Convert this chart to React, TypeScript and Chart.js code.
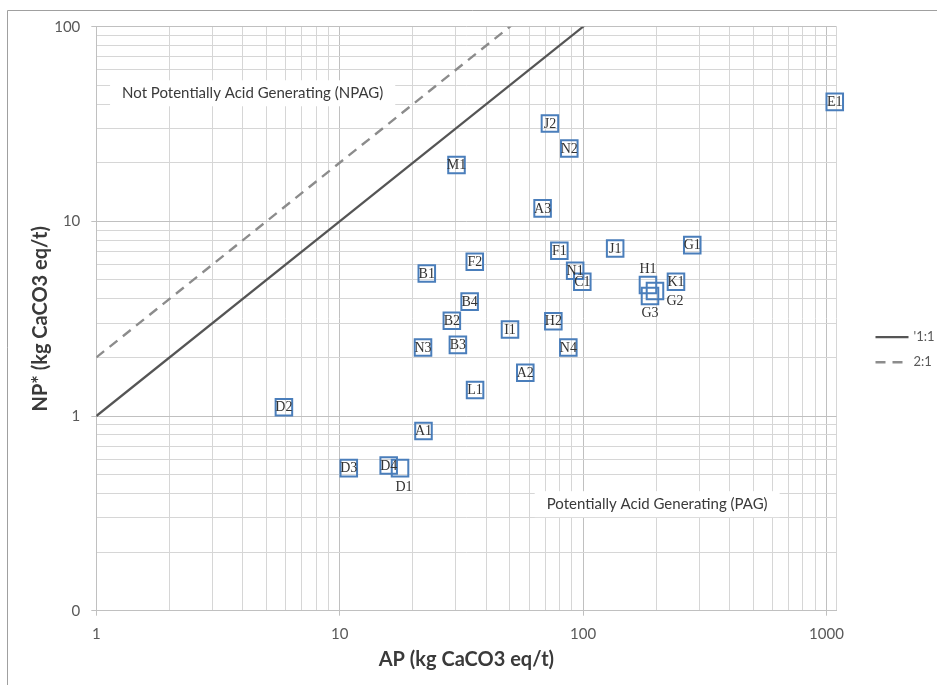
import React, { useEffect, useRef } from 'react';
import { Chart, registerables } from 'chart.js';

Chart.register(...registerables);

// ---- Data ----
const sampleIds = ['E1', 'J2', 'N2', 'M1', 'A3', 'F1', 'J1', 'G1', 'F2', 'B1', 'N1', 'C1', 'H1', 'G2', 'G3', 'K1', 'B4', 'B2', 'H2', 'I1', 'N3', 'B3', 'N4', 'A2', 'L1', 'D2', 'A1', 'D3', 'D4', 'D1'];
const apValues = [1082, 73.1, 87.8, 30.2, 68.2, 79.9, 135.5, 281, 35.9, 22.8, 92.8, 99.3, 184.8, 197.5, 188.4, 240.9, 34.2, 28.9, 75.5, 50.1, 22.0, 30.6, 87, 57.9, 36.0, 5.9, 22.1, 10.9, 15.9, 17.7];
const npValues = [41.1, 31.8, 23.7, 19.5, 11.66, 7.06, 7.26, 7.55, 6.2, 5.4, 5.57, 4.89, 4.71, 4.39, 4.14, 4.89, 3.87, 3.09, 3.07, 2.78, 2.25, 2.32, 2.25, 1.67, 1.36, 1.11, 0.838, 0.54, 0.557, 0.54];

const oneToOneAP = [1, 1000];
const oneToOneNP = [1, 1000];
const twoToOneAP = [1, 500];
const twoToOneNP = [2, 1000];
const lineLabels = ["'1:1", '2:1'];

const xTickValues = [1, 10, 100, 1000];
const xTickLabels = ['1', '10', '100', '1000'];
const yTickValues = [0.1, 1, 10, 100];
const yTickLabels = ['0', '1', '10', '100'];
const xMin = 1;
const xMax = 1100;
const yMin = 0.1;
const yMax = 100;

const regionTexts = ['Not Potentially Acid Generating (NPAG)', 'Potentially Acid Generating (PAG)'];
const regionAP = [4.39, 201.6];
const regionNP = [45.5, 0.3525];

const xTitle = 'AP (kg CaCO3 eq/t)';
const yTitle = 'NP* (kg CaCO3 eq/t)';

// ---- Helpers ----
function logGrid(min: number, max: number): number[] {
  const out: number[] = [];
  let p = Math.floor(Math.log10(min) + 1e-9);
  for (; Math.pow(10, p) <= max * 1.0001; p++) {
    for (let m = 1; m <= 9; m++) {
      const v = Number((m * Math.pow(10, p)).toPrecision(6));
      if (v >= min * 0.9999 && v <= max * 1.0001) out.push(v);
    }
  }
  if (out[out.length - 1] < max) out.push(max);
  return out;
}

function isMajor(v: number): boolean {
  const l = Math.log10(v);
  return Math.abs(l - Math.round(l)) < 1e-6;
}

function labelFor(values: number[], labels: string[], v: number): string {
  const i = values.findIndex((t) => Math.abs(t - v) / t < 1e-6);
  return i >= 0 ? labels[i] : '';
}

const labelOffsets: Record<string, [number, number]> = {
  H1: [0, -16],
  G2: [20, 10],
  G3: [0, 17],
  D1: [4, 18.5],
};

const MAJOR_GRID = '#c0c0c0';
const MINOR_GRID = '#d6d6d6';

const framePlugin = {
  id: 'frame',
  beforeDraw(chart: any) {
    const { ctx } = chart;
    ctx.save();
    ctx.fillStyle = '#ffffff';
    ctx.fillRect(0, 0, chart.width, chart.height);
    ctx.strokeStyle = '#a0a0a0';
    ctx.lineWidth = 1;
    ctx.beginPath();
    ctx.moveTo(7.5, chart.height);
    ctx.lineTo(7.5, 10.5);
    ctx.lineTo(chart.width, 10.5);
    ctx.stroke();
    ctx.restore();
  },
};

const regionPlugin = {
  id: 'regions',
  beforeDatasetsDraw(chart: any) {
    const { ctx, scales } = chart;
    ctx.save();
    ctx.font = '15px Lato';
    ctx.textAlign = 'center';
    ctx.textBaseline = 'middle';
    regionTexts.forEach((t, i) => {
      const cx = scales.x.getPixelForValue(regionAP[i]);
      const cy = scales.y.getPixelForValue(regionNP[i]);
      const w = ctx.measureText(t).width + 24;
      const h = 26;
      ctx.fillStyle = '#ffffff';
      ctx.fillRect(cx - w / 2, cy - h / 2, w, h);
      ctx.fillStyle = '#3a3a3a';
      ctx.fillText(t, cx, cy);
    });
    ctx.restore();
  },
};

const pointLabelPlugin = {
  id: 'pointLabels',
  afterDatasetsDraw(chart: any) {
    const { ctx } = chart;
    const meta = chart.getDatasetMeta(0);
    ctx.save();
    ctx.font = '14px "Liberation Serif"';
    ctx.fillStyle = '#333333';
    ctx.textAlign = 'center';
    ctx.textBaseline = 'middle';
    meta.data.forEach((el: any, i: number) => {
      const id = sampleIds[i];
      const off = labelOffsets[id] || [0, 0];
      ctx.fillText(id, el.x + off[0], el.y + off[1] + 0.5);
    });
    ctx.restore();
  },
};

const sideLegendPlugin = {
  id: 'sideLegend',
  afterDraw(chart: any) {
    const { ctx, chartArea } = chart;
    const x0 = chartArea.right + 39;
    let y = (chartArea.top + chartArea.bottom) / 2 + 18.5;
    ctx.save();
    chart.data.datasets.forEach((ds: any) => {
      if (ds.type !== 'line') return;
      ctx.strokeStyle = ds.borderColor;
      ctx.lineWidth = ds.borderWidth;
      ctx.setLineDash(ds.borderDash || []);
      ctx.beginPath();
      ctx.moveTo(x0, y);
      ctx.lineTo(x0 + 33, y);
      ctx.stroke();
      ctx.setLineDash([]);
      ctx.fillStyle = '#595959';
      ctx.font = '13px Lato';
      ctx.textAlign = 'left';
      ctx.textBaseline = 'middle';
      ctx.fillText(ds.label, x0 + 38, y);
      y += 25;
    });
    ctx.restore();
  },
};

export default function App() {
  const canvasRef = useRef<HTMLCanvasElement | null>(null);

  useEffect(() => {
    const canvas = canvasRef.current;
    if (!canvas) return;

    const points = apValues.map((x, i) => ({ x, y: npValues[i] }));
    const line1 = oneToOneAP.map((x, i) => ({ x, y: oneToOneNP[i] }));
    const line2 = twoToOneAP.map((x, i) => ({ x, y: twoToOneNP[i] }));

    const chart = new Chart(canvas, {
      type: 'scatter',
      data: {
        datasets: [
          {
            type: 'scatter',
            label: 'Samples',
            data: points,
            clip: false,
            pointStyle: 'rect',
            pointRadius: 11.7,
            pointHoverRadius: 11.7,
            borderColor: '#4a7ebb',
            borderWidth: 2,
            backgroundColor: 'rgba(0,0,0,0)',
          } as any,
          {
            type: 'line',
            label: lineLabels[0],
            data: line1,
            borderColor: '#555555',
            borderWidth: 2.2,
            pointRadius: 0,
            fill: false,
          } as any,
          {
            type: 'line',
            label: lineLabels[1],
            data: line2,
            borderColor: '#8c8c8c',
            borderWidth: 2.4,
            borderDash: [10, 7],
            pointRadius: 0,
            fill: false,
          } as any,
        ],
      },
      options: {
        animation: false,
        responsive: false,
        events: [],
        layout: { padding: { top: 26.7, right: 100.5, left: 0, bottom: 0 } },
        plugins: {
          legend: { display: false },
          tooltip: { enabled: false },
          title: { display: false },
        },
        scales: {
          x: {
            type: 'logarithmic',
            position: 'bottom',
            min: xMin,
            max: xMax,
            afterBuildTicks: (scale: any) => {
              scale.ticks = logGrid(xMin, xMax).map((v) => ({ value: v }));
            },
            afterFit: (scale: any) => {
              scale.height = 74.3;
            },
            grid: {
              color: (c: any) => (isMajor(c.tick.value) ? MAJOR_GRID : MINOR_GRID),
              tickColor: (c: any) => (isMajor(c.tick.value) ? MAJOR_GRID : 'rgba(0,0,0,0)'),
              tickLength: 5,
              lineWidth: 1,
            },
            border: { color: MAJOR_GRID },
            ticks: {
              autoSkip: false,
              maxRotation: 0,
              padding: 9,
              color: '#595959',
              font: { family: 'Lato', size: 15 },
              callback: (v: any) => labelFor(xTickValues, xTickLabels, Number(v)),
            },
            title: {
              display: true,
              text: xTitle,
              color: '#3a3a3a',
              font: { family: 'Lato', size: 20, weight: 'bold' },
              padding: { top: 0, bottom: 13 },
            },
          },
          y: {
            type: 'logarithmic',
            position: 'left',
            min: yMin,
            max: yMax,
            afterBuildTicks: (scale: any) => {
              scale.ticks = logGrid(yMin, yMax).map((v) => ({ value: v }));
            },
            afterFit: (scale: any) => {
              scale.width = 96.3;
            },
            grid: {
              color: (c: any) => (isMajor(c.tick.value) ? MAJOR_GRID : MINOR_GRID),
              tickColor: (c: any) => (isMajor(c.tick.value) ? MAJOR_GRID : 'rgba(0,0,0,0)'),
              tickLength: 5,
              lineWidth: 1,
            },
            border: { color: MAJOR_GRID },
            ticks: {
              autoSkip: false,
              padding: 11,
              color: '#595959',
              font: { family: 'Lato', size: 15 },
              callback: (v: any) => labelFor(yTickValues, yTickLabels, Number(v)),
            },
            title: {
              display: true,
              text: yTitle,
              color: '#3a3a3a',
              font: { family: 'Lato', size: 20, weight: 'bold' },
              padding: { top: 29, bottom: 0 },
            },
          },
        },
      } as any,
      plugins: [framePlugin, regionPlugin, pointLabelPlugin, sideLegendPlugin],
    });

    let alive = true;
    if ((document as any).fonts && (document as any).fonts.ready) {
      (document as any).fonts.ready.then(() => {
        if (alive) chart.update();
      });
    }

    return () => {
      alive = false;
      chart.destroy();
    };
  }, []);

  return (
    <div style={{ position: 'fixed', left: 0, top: 0, width: 937, height: 685, background: '#fff' }}>
      <canvas ref={canvasRef} width={937} height={685} style={{ display: 'block', width: 937, height: 685 }} />
    </div>
  );
}
